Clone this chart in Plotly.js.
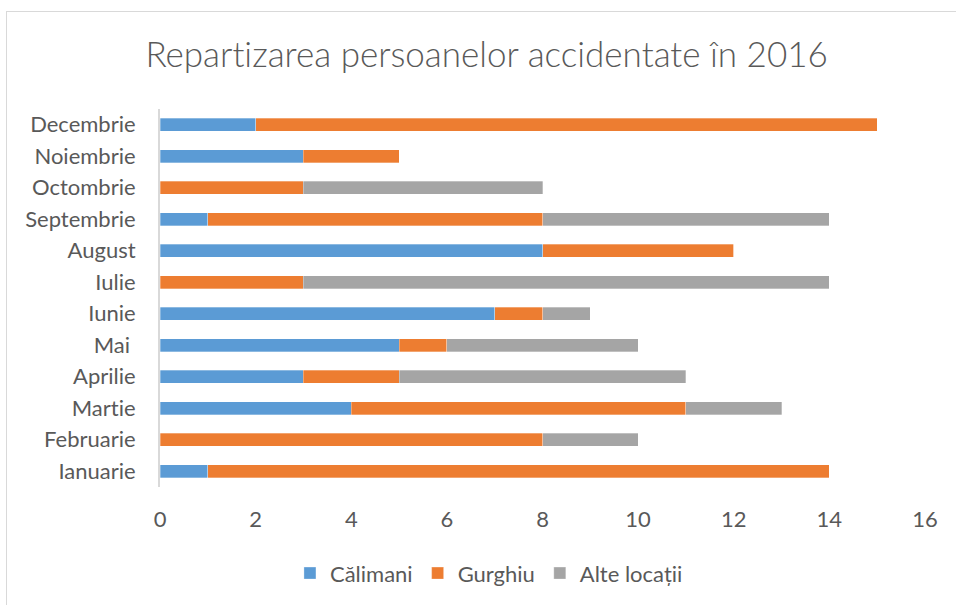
<!DOCTYPE html>
<html>
<head>
<meta charset="utf-8">
<script src="https://cdn.plot.ly/plotly-3.0.1.min.js"></script>
<style>
html,body{margin:0;padding:0;background:#fff;}
#wrap{position:relative;width:956px;height:605px;overflow:hidden;}
#chart{position:absolute;left:0;top:0;width:956px;height:605px;}
#frame{position:absolute;left:6px;top:11px;width:960px;height:600px;border-top:1px solid #d9d9d9;border-left:1px solid #d9d9d9;pointer-events:none;}
svg text{font-variant-ligatures:none;font-feature-settings:"liga" 0;}
</style>
</head>
<body>
<div id="wrap"><div id="chart"></div><div id="frame"></div></div>
<script>
const months = ["Ianuarie","Februarie","Martie","Aprilie","Mai\u00a0","Iunie","Iulie","August","Septembrie","Octombrie","Noiembrie","Decembrie"];
const calimani = [1,0,4,3,5,7,0,8,1,0,3,2];
const gurghiu  = [13,8,7,2,1,1,3,4,7,3,2,13];
const alte     = [0,2,2,6,4,1,11,0,6,5,0,0];
const seriesNames = ["Călimani","Gurghiu","Alte locații"];
const xTicks = [0,2,4,6,8,10,12,14,16];

const colors = ["#5B9BD5","#ED7D31","#A5A5A5"];
const vals = [calimani, gurghiu, alte];
const fontFam = "Lato, 'Open Sans', sans-serif";

const traces = vals.map((v,i)=>({
  type:"bar", orientation:"h", name:seriesNames[i],
  x:v, y:months,
  marker:{color:colors[i], line:{color:"rgba(255,255,255,0.6)", width:0.5}},
  hoverinfo:"x+y+name"
}));

const layout = {
  width:956, height:605,
  paper_bgcolor:"rgba(0,0,0,0)", plot_bgcolor:"rgba(0,0,0,0)",
  margin:{l:160, r:31, t:109, b:117},
  barmode:"stack", bargap:0.59,
  font:{family:fontFam, color:"#595959", size:22},
  title:{text:"Repartizarea persoanelor accidentate în 2016", font:{family:fontFam, size:35, color:"#595959", weight:300}, x:0.509, xanchor:"center", y:0.91, yanchor:"middle"},
  xaxis:{range:[0,16], tickvals:xTicks, ticktext:xTicks.map(String), showgrid:false, zeroline:false, showline:false, ticks:"", ticklabelstandoff:17, tickfont:{size:22, color:"#595959"}, fixedrange:true},
  yaxis:{type:"category", categoryorder:"array", categoryarray:months, range:[-0.5,11.5], showgrid:false, zeroline:false, showline:true, linecolor:"#d9d9d9", linewidth:2, ticks:"", ticklabelstandoff:18, tickfont:{size:22, color:"#595959"}, fixedrange:true},
  legend:{orientation:"h", x:0.43, xanchor:"center", y:-0.225, yanchor:"middle", font:{size:22, color:"#595959"}, traceorder:"normal", itemwidth:30},
  showlegend:true
};

Plotly.newPlot("chart", traces, layout, {displayModeBar:false, staticPlot:true});
</script>
</body>
</html>
